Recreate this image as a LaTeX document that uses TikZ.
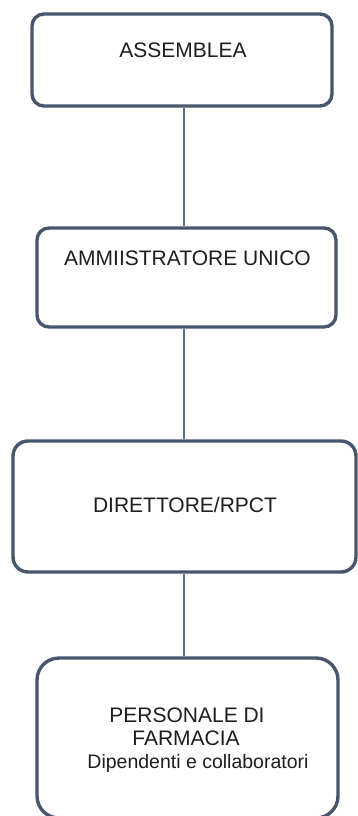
\documentclass[tikz,border=0pt]{standalone}
\usepackage{fontspec}
\setmainfont{Liberation Sans}
\definecolor{boxline}{HTML}{47566B}
\definecolor{conline}{HTML}{5E6C82}
\definecolor{txt}{HTML}{1E1E1E}
\begin{document}
\begin{tikzpicture}[x=1pt,y=-1pt,
  orgbox/.style={draw=boxline,line width=3.4pt,fill=white,inner sep=0pt},
  lbl/.style={anchor=base,inner sep=0pt,text=txt,font=\fontsize{21}{24}\selectfont},
  lbls/.style={anchor=base,inner sep=0pt,text=txt,font=\fontsize{19.5}{24}\selectfont},
  con/.style={draw=conline,line width=1.4pt}]
\useasboundingbox (0,0) rectangle (358,816);
\begin{scope}
\clip (0,0) rectangle (358,816);
\coordinate (lx) at (184,0);
\node[orgbox,rounded corners=12pt,minimum width=300pt,minimum height=92pt] (b1) at (182,60) {};
\node[orgbox,rounded corners=12pt,minimum width=299pt,minimum height=99pt] (b2) at (186.5,277.5) {};
\node[orgbox,rounded corners=15pt,minimum width=343pt,minimum height=131pt] (b3) at (184.5,506.5) {};
\node[orgbox,rounded corners=22pt,minimum width=301pt,minimum height=160pt] (b4) at (187.5,738) {};
\draw[con] (b1.south -| lx) -- (b2.north -| lx);
\draw[con] (b2.south -| lx) -- (b3.north -| lx);
\draw[con] (b3.south -| lx) -- (b4.north -| lx);
\node[lbl] (t1) at (183,58) {ASSEMBLEA};
\node[lbl] (t2) at (187.5,265) {AMMIISTRATORE UNICO};
\node[lbl] (t3) at (185,512) {DIRETTORE/RPCT};
\node[lbl] (t4a) at (187,722) {PERSONALE DI};
\node[lbl] (t4b) at (186,745.5) {FARMACIA};
\node[lbls] (t4c) at (198,768.5) {Dipendenti e collaboratori};
\end{scope}
\end{tikzpicture}
\end{document}
